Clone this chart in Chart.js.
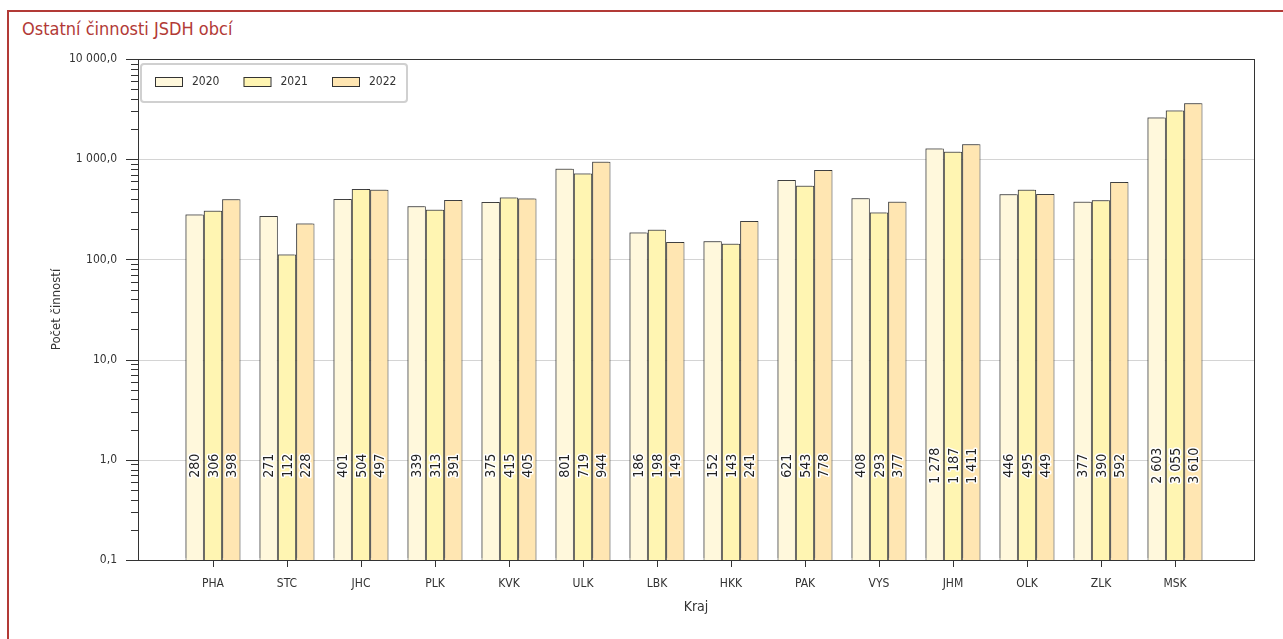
<!DOCTYPE html>
<html><head><meta charset="utf-8">
<script src="https://cdn.jsdelivr.net/npm/chart.js@4"></script>
<style>
html,body{margin:0;padding:0;background:#fff;width:1283px;height:639px;overflow:hidden}
#frame{position:absolute;left:7px;top:10px;width:1300px;height:660px;border:2px solid #b23a36;box-sizing:border-box}
#title{position:absolute;left:22px;top:18px;font:18px "Liberation Sans Narrow","DejaVu Sans Condensed",sans-serif;color:#b23a36;white-space:nowrap}
#wrap{position:absolute;left:0;top:0;width:1283px;height:639px}
</style></head><body>
<div id="frame"></div>
<div id="title">Ostatní činnosti JSDH obcí</div>
<div id="wrap"><canvas id="c"></canvas></div>
<script>
const categories = ["PHA","STC","JHC","PLK","KVK","ULK","LBK","HKK","PAK","VYS","JHM","OLK","ZLK","MSK"];
const seriesNames = ["2020","2021","2022"];
const values2020 = [280,271,401,339,375,801,186,152,621,408,1278,446,377,2603];
const values2021 = [306,112,504,313,415,719,198,143,543,293,1187,495,390,3055];
const values2022 = [398,228,497,391,405,944,149,241,778,377,1411,449,592,3610];
const yTicks = [0.1,1,10,100,1000,10000];
const colors = ["#fff8dc","#fff5b2","#ffe6b2"];

const FONT = '"Liberation Sans Narrow","DejaVu Sans Condensed",sans-serif';
const PAD_L = 38, PAD_R = 42; // frame extends beyond the category axis

function groupInt(n){ return String(n).replace(/\B(?=(\d{3})+(?!\d))/g,' '); }
function fmtTick(v){
  const s = Number(v).toFixed(1).split('.');
  return groupInt(s[0]) + ',' + s[1];
}

const gridPlugin = {
  id:'grid',
  beforeDatasetsDraw(chart){
    const ctx = chart.ctx, a = chart.chartArea, ys = chart.scales.y;
    ctx.save();
    ctx.strokeStyle = '#d4d4d4';
    ctx.lineWidth = 1;
    ctx.beginPath();
    yTicks.forEach(v => {
      const y = Math.round(ys.getPixelForValue(v)) + 0.5;
      ctx.moveTo(a.left - PAD_L, y); ctx.lineTo(a.right + PAD_R, y);
    });
    ctx.stroke();
    ctx.restore();
  }
};

const shadowPlugin = {
  id:'shadowAndLabels',
  beforeDatasetsDraw(chart){
    const ctx = chart.ctx;
    ctx.save();
    ctx.shadowColor = 'rgba(80,80,80,0.5)';
    ctx.shadowOffsetX = -2;
    ctx.shadowOffsetY = -2;
    ctx.shadowBlur = 0;
  },
  afterDatasetsDraw(chart){
    const ctx = chart.ctx;
    ctx.restore();
    const ys = chart.scales.y;
    const yl = ys.getPixelForValue(1) + 6;
    ctx.save();
    ctx.font = '14px ' + FONT;
    ctx.textAlign = 'center';
    ctx.textBaseline = 'middle';
    chart.data.datasets.forEach((ds, di) => {
      const meta = chart.getDatasetMeta(di);
      meta.data.forEach((bar, i) => {
        const txt = groupInt(ds.data[i]);
        ctx.save();
        ctx.translate(bar.x, yl);
        ctx.rotate(-Math.PI/2);
        ctx.lineWidth = 3;
        ctx.strokeStyle = '#ffffff';
        ctx.lineJoin = 'round';
        ctx.strokeText(txt, 0, 1);
        ctx.fillStyle = '#222';
        ctx.fillText(txt, 0, 1);
        ctx.restore();
      });
    });
    ctx.restore();
  }
};

const decorPlugin = {
  id:'decor',
  afterDraw(chart){
    const ctx = chart.ctx;
    const a = chart.chartArea;
    const ys = chart.scales.y;
    const fl = a.left - PAD_L, fr = a.right + PAD_R;
    ctx.save();
    // frame
    ctx.strokeStyle = '#333';
    ctx.lineWidth = 1;
    ctx.strokeRect(Math.round(fl) + 0.5, Math.round(a.top) + 0.5, Math.round(fr - fl), Math.round(a.bottom - a.top));
    // major + minor ticks on y axis
    ctx.beginPath();
    yTicks.forEach(v => {
      const y = Math.round(ys.getPixelForValue(v)) + 0.5;
      ctx.moveTo(fl - 12, y); ctx.lineTo(fl, y);
    });
    for (let d = 0; d < yTicks.length - 1; d++){
      for (let k = 2; k <= 9; k++){
        const y = Math.round(ys.getPixelForValue(yTicks[d]*k)) + 0.5;
        ctx.moveTo(fl - 7, y); ctx.lineTo(fl, y);
      }
    }
    ctx.stroke();
    // axis titles
    ctx.fillStyle = '#333';
    ctx.font = '13px ' + FONT;
    ctx.textAlign = 'center';
    ctx.textBaseline = 'middle';
    ctx.save();
    ctx.translate(57, (a.top + a.bottom)/2);
    ctx.rotate(-Math.PI/2);
    ctx.fillText('Počet činností', 0, 0);
    ctx.restore();
    ctx.font = '14px ' + FONT;
    ctx.fillText('Kraj', (fl + fr)/2, 607);
    // legend
    const lx = fl + 3, ly = a.top + 5, lw = 266, lh = 38;
    ctx.fillStyle = '#fff';
    ctx.strokeStyle = '#d0d0d0';
    ctx.lineWidth = 2;
    ctx.beginPath();
    ctx.roundRect(lx, ly, lw, lh, 3);
    ctx.fill(); ctx.stroke();
    ctx.font = '12px ' + FONT;
    ctx.textAlign = 'left';
    chart.data.datasets.forEach((ds, i) => {
      const sx = lx + 14 + i*88.5;
      const sy = ly + 13;
      ctx.fillStyle = ds.backgroundColor;
      ctx.fillRect(sx, sy, 27, 9);
      ctx.strokeStyle = '#333';
      ctx.lineWidth = 1;
      ctx.strokeRect(sx + 0.5, sy + 0.5, 27, 9);
      ctx.fillStyle = '#333';
      ctx.fillText(ds.label, sx + 37, sy + 5);
    });
    ctx.restore();
  }
};

const allValues = [values2020, values2021, values2022];
new Chart(document.getElementById('c'), {
  type:'bar',
  data:{
    labels: categories,
    datasets: seriesNames.map((n, i) => ({
      label: n,
      data: allValues[i],
      backgroundColor: colors[i],
      borderColor: '#333',
      borderWidth: 1,
      barPercentage: 1,
      categoryPercentage: 0.743
    }))
  },
  options:{
    responsive:true,
    maintainAspectRatio:false,
    animation:false,
    layout:{padding:{left:0, top:59, right:71, bottom:0}},
    plugins:{legend:{display:false}, tooltip:{enabled:false}, title:{display:false}},
    scales:{
      x:{
        offset:true,
        grid:{drawOnChartArea:false, offset:false, tickLength:7, tickColor:'#333'},
        border:{display:false},
        ticks:{font:{family:FONT, size:12}, color:'#333', padding:10, maxRotation:0},
        afterFit(s){ s.height = 79; }
      },
      y:{
        type:'logarithmic',
        min:0.1, max:10000,
        afterBuildTicks(s){ s.ticks = yTicks.map(v => ({value:v, major:true})); },
        grid:{display:false, drawTicks:true, tickLength:50},
        border:{display:false},
        ticks:{callback:(v)=>fmtTick(v), font:{family:FONT, size:12}, color:'#333', padding:9, autoSkip:false},
        afterFit(s){ s.width = 176; }
      }
    }
  },
  plugins:[gridPlugin, shadowPlugin, decorPlugin]
});
</script>
</body></html>
